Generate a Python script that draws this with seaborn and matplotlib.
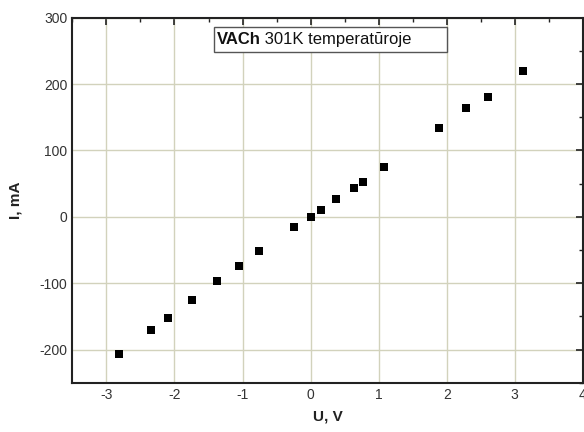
import pandas as pd
import matplotlib.pyplot as plt
import seaborn as sns
from matplotlib.patches import Rectangle
from matplotlib.ticker import MultipleLocator

# data
voltage = [-2.81, -2.34, -2.10, -1.75, -1.38, -1.05, -0.76, -0.25, 0.0, 0.16,
           0.38, 0.64, 0.77, 1.08, 1.89, 2.28, 2.60, 3.12]
current = [-206, -170, -152, -125, -97, -74, -52, -16, 0, 11,
           27, 43, 53, 75, 134, 164, 181, 220]

df = pd.DataFrame({'U': voltage, 'I': current})

sns.set_style("white")
plt.rcParams['font.family'] = ['Liberation Sans', 'DejaVu Sans']
plt.rcParams['axes.unicode_minus'] = False

fig = plt.figure(figsize=(5.84, 4.32), dpi=100)
ax = fig.add_axes([0.124, 0.114, 0.874, 0.845])

ax.grid(True, which='major', color='#d2d2bc', linewidth=1.0)
ax.set_axisbelow(True)

sns.scatterplot(x='U', y='I', data=df, marker='s', s=34, color='black',
                edgecolor='black', linewidth=0, ax=ax, zorder=3)

ax.set_xlim(-3.5, 4)
ax.set_ylim(-250, 300)
ax.xaxis.set_major_locator(MultipleLocator(1))
ax.xaxis.set_minor_locator(MultipleLocator(0.5))
ax.yaxis.set_major_locator(MultipleLocator(100))
ax.yaxis.set_minor_locator(MultipleLocator(50))

ax.tick_params(which='both', direction='in', top=True, right=True,
               color='#222222', labelcolor='#333333', labelsize=10)
ax.tick_params(which='major', length=5, width=1.2)
ax.tick_params(which='minor', length=3, width=1.0)

for s in ax.spines.values():
    s.set_linewidth(1.5)
    s.set_color('#222222')

ax.set_xlabel('U, V', fontsize=11, fontweight='bold', color='#222222', labelpad=6)
ax.set_ylabel('I, mA', fontsize=11, fontweight='bold', color='#222222', labelpad=12)

# title box
ax.add_patch(Rectangle((0.2766, 0.907), 0.457, 0.068, transform=ax.transAxes,
                       facecolor='white', edgecolor='#555555', linewidth=1.0, zorder=4))
t1 = ax.text(0.2825, 0.941, 'VACh', transform=ax.transAxes, fontsize=12,
             fontweight='bold', va='center', ha='left', color='#111111', zorder=5)
ax.annotate(' 301K temperatūroje', xy=(1, 0), xycoords=t1, va='bottom', ha='left',
            fontsize=12, color='#111111', zorder=5)

fig.savefig('out.png', dpi=100)
